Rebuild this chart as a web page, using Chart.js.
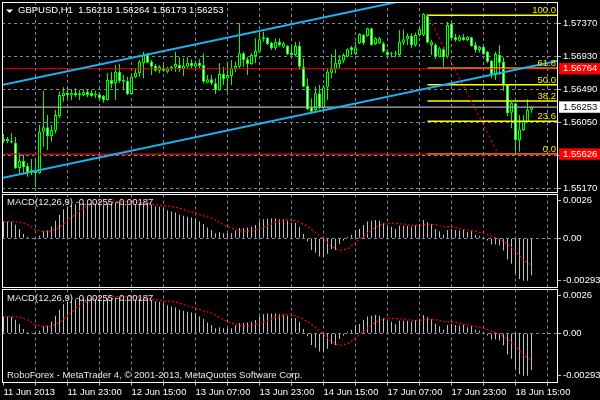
<!DOCTYPE html>
<html>
<head>
<meta charset="utf-8">
<title>GBPUSD,H1</title>
<script src="https://cdn.jsdelivr.net/npm/chart.js@4.4.0/dist/chart.umd.min.js"></script>
<style>
    html, body { margin: 0; padding: 0; background: #000; }
    body { width: 600px; height: 400px; position: relative; overflow: hidden; }
    canvas { position: absolute; left: 0; }
</style>
</head>
<body>
<canvas id="priceChart" width="600" height="194" style="top:0"></canvas>
<canvas id="macdChart1" width="600" height="96" style="top:193px"></canvas>
<canvas id="macdChart2" width="600" height="111" style="top:289px"></canvas>
<script>
// GBPUSD H1 candles, one per hour from 11 Jun 07:00 (bar 0) to 18 Jun 19:00 (bar 132)
const symbolName = 'GBPUSD,H1';

const openPrices = [
    1.55801, 1.55828, 1.55801, 1.55778, 1.55441, 1.55534, 1.55468, 1.55378, 1.55414, 1.55370,
    1.55925, 1.55984, 1.55868, 1.55938, 1.56134, 1.56401, 1.56445, 1.56410, 1.56445, 1.56410,
    1.56414, 1.56458, 1.56445, 1.56410, 1.56424, 1.56401, 1.56348, 1.56614, 1.56570, 1.56725,
    1.56592, 1.56601, 1.56428, 1.56650, 1.56704, 1.56837, 1.56948, 1.56858, 1.56801, 1.56738,
    1.56778, 1.56725, 1.56757, 1.56784, 1.56814, 1.56757, 1.56792, 1.56845, 1.56792, 1.56845,
    1.56814, 1.56578, 1.56624, 1.56570, 1.56481, 1.56694, 1.56637, 1.56668, 1.56757, 1.56792,
    1.56970, 1.56890, 1.56828, 1.56934, 1.56992, 1.57157, 1.57178, 1.57112, 1.57037, 1.57125,
    1.57058, 1.57068, 1.56978, 1.56948, 1.57068, 1.56792, 1.56534, 1.56250, 1.56214, 1.56437,
    1.56237, 1.56517, 1.56712, 1.56757, 1.56828, 1.56872, 1.56925, 1.57050, 1.56961, 1.57104,
    1.57214, 1.57201, 1.57304, 1.57094, 1.57104, 1.57104, 1.56992, 1.56970, 1.56961, 1.56948,
    1.57112, 1.57157, 1.57201, 1.57081, 1.57214, 1.57214, 1.57485, 1.57081, 1.57081, 1.56925,
    1.57024, 1.56925, 1.57361, 1.57184, 1.57138, 1.57184, 1.57148, 1.57184, 1.57081, 1.57014,
    1.57058, 1.56992, 1.56868, 1.56681, 1.56948, 1.56858, 1.56548, 1.56178, 1.56304, 1.55814,
    1.55948, 1.56058, 1.56218
];
const highPrices = [
    1.55894, 1.55854, 1.55908, 1.55854, 1.55645, 1.55614, 1.55508, 1.55561, 1.55574, 1.56014,
    1.56472, 1.56148, 1.56014, 1.56214, 1.56458, 1.56517, 1.56517, 1.56490, 1.56504, 1.56481,
    1.56490, 1.56490, 1.56481, 1.56472, 1.56437, 1.56414, 1.56704, 1.56725, 1.56814, 1.56828,
    1.56681, 1.56658, 1.56704, 1.56770, 1.56881, 1.56992, 1.56970, 1.56881, 1.56828, 1.56814,
    1.56814, 1.56792, 1.56801, 1.56992, 1.56925, 1.56904, 1.56925, 1.56890, 1.56868, 1.56890,
    1.56970, 1.56681, 1.56681, 1.56637, 1.56837, 1.56792, 1.56858, 1.56881, 1.56858, 1.57370,
    1.56992, 1.56925, 1.56970, 1.57170, 1.57237, 1.57258, 1.57192, 1.57125, 1.57170, 1.57170,
    1.57125, 1.57081, 1.57058, 1.57125, 1.57125, 1.56904, 1.56637, 1.56370, 1.56525, 1.56548,
    1.56548, 1.56770, 1.56961, 1.57024, 1.56948, 1.56970, 1.57037, 1.57068, 1.57125, 1.57237,
    1.57228, 1.57312, 1.57312, 1.57184, 1.57192, 1.57125, 1.57024, 1.56992, 1.57005, 1.57281,
    1.57290, 1.57237, 1.57237, 1.57245, 1.57325, 1.57504, 1.57494, 1.57148, 1.57104, 1.57058,
    1.57058, 1.57392, 1.57378, 1.57228, 1.57214, 1.57228, 1.57201, 1.57192, 1.57125, 1.57068,
    1.57068, 1.57005, 1.56881, 1.56992, 1.57081, 1.56917, 1.56552, 1.56325, 1.56312, 1.56148,
    1.56148, 1.56357, 1.56264
];
const lowPrices = [
    1.55774, 1.55774, 1.55768, 1.55428, 1.55348, 1.55374, 1.55325, 1.55348, 1.55188, 1.55361,
    1.55725, 1.55681, 1.55792, 1.55904, 1.56104, 1.56325, 1.56370, 1.56348, 1.56392, 1.56348,
    1.56401, 1.56384, 1.56392, 1.56370, 1.56348, 1.56312, 1.56341, 1.56504, 1.56348, 1.56578,
    1.56490, 1.56414, 1.56414, 1.56637, 1.56658, 1.56637, 1.56837, 1.56681, 1.56725, 1.56704,
    1.56725, 1.56704, 1.56738, 1.56725, 1.56725, 1.56668, 1.56770, 1.56770, 1.56770, 1.56770,
    1.56570, 1.56570, 1.56548, 1.56428, 1.56472, 1.56548, 1.56458, 1.56548, 1.56725, 1.56770,
    1.56792, 1.56681, 1.56814, 1.56837, 1.56970, 1.57125, 1.57081, 1.57014, 1.57014, 1.57058,
    1.57037, 1.56948, 1.56934, 1.56925, 1.56748, 1.56517, 1.56214, 1.56170, 1.56192, 1.56224,
    1.56214, 1.56348, 1.56637, 1.56704, 1.56770, 1.56837, 1.56917, 1.56948, 1.56948, 1.57094,
    1.57081, 1.57192, 1.57072, 1.57081, 1.57094, 1.56978, 1.56934, 1.56917, 1.56917, 1.56934,
    1.57081, 1.57081, 1.57037, 1.57058, 1.57192, 1.57201, 1.57104, 1.56948, 1.56890, 1.56917,
    1.56792, 1.56904, 1.57157, 1.57125, 1.57125, 1.57138, 1.57134, 1.57058, 1.56978, 1.56978,
    1.56948, 1.56837, 1.56637, 1.56614, 1.56681, 1.56472, 1.56134, 1.55970, 1.55626, 1.55658,
    1.55938, 1.56045, 1.56173
];
const closePrices = [
    1.55828, 1.55801, 1.55781, 1.55437, 1.55534, 1.55454, 1.55378, 1.55414, 1.55370, 1.55925,
    1.55984, 1.55868, 1.55948, 1.56148, 1.56414, 1.56445, 1.56410, 1.56445, 1.56410, 1.56437,
    1.56458, 1.56414, 1.56401, 1.56428, 1.56370, 1.56348, 1.56614, 1.56561, 1.56725, 1.56601,
    1.56614, 1.56428, 1.56658, 1.56712, 1.56858, 1.56948, 1.56845, 1.56792, 1.56738, 1.56792,
    1.56738, 1.56770, 1.56792, 1.56828, 1.56757, 1.56801, 1.56845, 1.56801, 1.56837, 1.56801,
    1.56592, 1.56624, 1.56570, 1.56481, 1.56694, 1.56624, 1.56681, 1.56770, 1.56801, 1.56970,
    1.56881, 1.56828, 1.56948, 1.57005, 1.57157, 1.57184, 1.57094, 1.57037, 1.57125, 1.57081,
    1.57104, 1.56961, 1.56948, 1.57068, 1.56792, 1.56525, 1.56224, 1.56192, 1.56437, 1.56250,
    1.56517, 1.56725, 1.56770, 1.56845, 1.56881, 1.56948, 1.57024, 1.57014, 1.57050, 1.57228,
    1.57104, 1.57304, 1.57081, 1.57170, 1.57170, 1.56992, 1.56948, 1.56961, 1.56970, 1.57125,
    1.57157, 1.57201, 1.57081, 1.57214, 1.57290, 1.57494, 1.57112, 1.57125, 1.56925, 1.57037,
    1.56917, 1.57348, 1.57170, 1.57148, 1.57192, 1.57148, 1.57192, 1.57068, 1.57014, 1.57058,
    1.56961, 1.56858, 1.56694, 1.56961, 1.56845, 1.56548, 1.56170, 1.56312, 1.55814, 1.55957,
    1.56072, 1.56214, 1.56253
];

// MACD(12,26,9) main line (histogram), one value per bar
const macdValues = [
    0.00116, 0.00116, 0.00112, 0.00094, 0.00064, 0.00030, 0.00011, 0.00005, 0.00002, 0.00018,
    0.00048, 0.00053, 0.00082, 0.00121, 0.00162, 0.00201, 0.00217, 0.00231, 0.00235, 0.00240,
    0.00242, 0.00242, 0.00240, 0.00237, 0.00235, 0.00228, 0.00240, 0.00242, 0.00247, 0.00247,
    0.00244, 0.00235, 0.00235, 0.00235, 0.00240, 0.00242, 0.00240, 0.00231, 0.00221, 0.00217,
    0.00208, 0.00194, 0.00185, 0.00178, 0.00162, 0.00155, 0.00148, 0.00144, 0.00139, 0.00116,
    0.00098, 0.00075, 0.00057, 0.00034, 0.00041, 0.00034, 0.00034, 0.00034, 0.00053, 0.00071,
    0.00071, 0.00075, 0.00080, 0.00091, 0.00116, 0.00132, 0.00137, 0.00137, 0.00137, 0.00132,
    0.00132, 0.00121, 0.00105, 0.00105, 0.00080, 0.00030, -0.00021, -0.00080, -0.00100, -0.00126,
    -0.00126, -0.00107, -0.00073, -0.00080, -0.00039, -0.00016, 0.00011, 0.00025, 0.00057, 0.00064,
    0.00091, 0.00116, 0.00121, 0.00126, 0.00121, 0.00103, 0.00087, 0.00080, 0.00064, 0.00087,
    0.00087, 0.00087, 0.00082, 0.00091, 0.00098, 0.00126, 0.00110, 0.00098, 0.00064, 0.00048,
    0.00025, 0.00057, 0.00064, 0.00057, 0.00053, 0.00057, 0.00041, 0.00053, 0.00025, 0.00018,
    0.00007, -0.00016, -0.00043, -0.00043, -0.00050, -0.00084, -0.00146, -0.00176, -0.00244, -0.00280,
    -0.00293, -0.00293, -0.00255
];
// signal line, read every second bar (bars 0, 2, 4 ... 132)
const signalStep = 2;
const signalValues = [
    0.00116, 0.00116, 0.00112, 0.00094, 0.00057, 0.00048, 0.00048, 0.00075, 0.00121, 0.00167,
    0.00208, 0.00235, 0.00249, 0.00253, 0.00253, 0.00253, 0.00253, 0.00247, 0.00240, 0.00231,
    0.00224, 0.00219, 0.00208, 0.00190, 0.00174, 0.00155, 0.00139, 0.00110, 0.00080, 0.00059,
    0.00048, 0.00053, 0.00071, 0.00087, 0.00110, 0.00126, 0.00130, 0.00110, 0.00082, 0.00041,
    -0.00005, -0.00057, -0.00084, -0.00073, -0.00032, 0.00014, 0.00057, 0.00091, 0.00103, 0.00103,
    0.00098, 0.00089, 0.00089, 0.00096, 0.00094, 0.00082, 0.00080, 0.00068, 0.00057, 0.00048,
    0.00034, 0.00014, -0.00005, -0.00039, -0.00089, -0.00148, -0.00187
];

// chart objects drawn on the price window
const channelBars = [-0.375, 138.375];
const upperChannel = [1.56547, 1.58102];
const lowerChannel = [1.55307, 1.56866];
const redLevels = [1.56764, 1.55626];
const bidPrice = 1.56253;
const fibHigh = 1.57477;
const fibLow = 1.55626;
const fibBars = [106, 123.7];
const fibLevels = [100, 61.8, 50, 38.2, 23.6, 0];

// axes
const priceTicks = [1.5737, 1.5693, 1.5649, 1.5605, 1.5561, 1.5517];
const macdTicks = [0.0026, 0, -0.00293];
const macdTickLabels = ['0.0026', '0.00', '-0.00293'];
const gridBars = [0, 8, 16, 24, 32, 40, 48, 56, 64, 72, 80, 88, 96, 104, 112, 120, 128, 136];
const timeBars = [0, 16, 32, 48, 64, 80, 96, 112, 128];
const timeLabels = ['11 Jun 2013', '11 Jun 23:00', '12 Jun 15:00', '13 Jun 07:00', '13 Jun 23:00',
    '14 Jun 15:00', '17 Jun 07:00', '17 Jun 23:00', '18 Jun 15:00'];

const xMin = -0.375, xMax = 138.375;
const priceMin = 1.55114, priceMax = 1.57654;
const macdMin = -0.003393, macdMax = 0.003021;

const gridColor = '#778899';
const candleColor = '#00ff00';
const fontFamily = '"Liberation Sans", Arial, sans-serif';
const textFont = '9.5px ' + fontFamily;

Chart.defaults.font.family = fontFamily;
Chart.defaults.font.size = 9.5;
Chart.defaults.color = '#ffffff';
Chart.defaults.animation = false;

const last = closePrices.length - 1;
const markerPrices = [redLevels[0], bidPrice, redLevels[1]];

// white frame round each window
const framePlugin = {
    id: 'frame',
    afterDraw(chart) {
        const { ctx, chartArea: a } = chart;
        const l = Math.floor(a.left) + 0.5, r = Math.floor(a.right) + 0.5;
        const t = Math.floor(a.top) + 0.5, b = Math.floor(a.bottom) + 0.5;
        ctx.save();
        ctx.strokeStyle = '#ffffff';
        ctx.lineWidth = 1;
        ctx.strokeRect(l, t, r - l, b - t);
        ctx.restore();
    }
};

function timeAxis(showLabels) {
    return {
        type: 'linear',
        min: xMin,
        max: xMax,
        offset: false,
        afterBuildTicks: scale => { scale.ticks = gridBars.map(v => ({ value: v })); },
        afterFit: scale => {
            scale.height = showLabels ? 17.5 : 0;
            scale.paddingLeft = 0;
            scale.paddingRight = 0;
        },
        grid: {
            offset: false,
            color: c => (c.tick && c.tick.value > 0) ? gridColor : 'transparent',
            drawTicks: showLabels,
            tickLength: 3,
            tickColor: '#c0c0c0'
        },
        border: { display: false, dash: [3, 3] },
        ticks: {
            display: showLabels,
            autoSkip: false,
            maxRotation: 0,
            minRotation: 0,
            align: 'start',
            padding: 1,
            color: '#ffffff',
            callback: v => {
                const k = timeBars.indexOf(v);
                return k >= 0 ? timeLabels[k] : '';
            }
        }
    };
}

function rightAxis(min, max, tickValues, gridOn, labelFor, tickStyle) {
    return {
        type: 'linear',
        position: 'right',
        min: min,
        max: max,
        afterBuildTicks: scale => { scale.ticks = tickValues.map(v => ({ value: v })); },
        afterFit: scale => {
            scale.width = 43;
            scale.paddingTop = 0;
            scale.paddingBottom = 0;
        },
        grid: {
            color: c => (c.tick && gridOn(c.tick.value)) ? gridColor : 'transparent',
            tickLength: 4,
            tickColor: c => (c.tick && tickStyle(c.tick.value).bg) ? 'transparent' : '#c0c0c0'
        },
        border: { display: false, dash: [3, 3] },
        ticks: {
            autoSkip: false,
            padding: 2,
            color: c => c.tick ? tickStyle(c.tick.value).color : '#ffffff',
            showLabelBackdrop: c => !!(c.tick && tickStyle(c.tick.value).bg),
            backdropColor: c => (c.tick && tickStyle(c.tick.value).bg) || 'transparent',
            backdropPadding: { left: 4, right: 5, top: 0, bottom: 0 },
            callback: labelFor
        }
    };
}

function priceTickStyle(v) {
    if (Math.abs(v - bidPrice) < 1e-7) return { color: '#000000', bg: '#ffffff' };
    if (redLevels.some(p => Math.abs(v - p) < 1e-7)) return { color: '#ffffff', bg: '#ff0000' };
    return { color: '#ffffff', bg: null };
}

// price window
const bodyData = openPrices.map((o, i) => ({ x: i, y: [o, closePrices[i]] }));
const wickData = lowPrices.map((lo, i) => ({ x: i, y: [lo, highPrices[i]] }));
const bodyFill = openPrices.map((o, i) => closePrices[i] >= o ? '#000000' : '#ffffff');

function hLine(price, fromBar, color, order, width) {
    return {
        type: 'line',
        data: [{ x: fromBar, y: price }, { x: xMax, y: price }],
        borderColor: color,
        borderWidth: width || 1,
        pointRadius: 0,
        order: order
    };
}

const fibPrice = lvl => fibLow + (fibHigh - fibLow) * lvl / 100;

const priceDatasets = [
    {
        type: 'line',
        data: channelBars.map((b, k) => ({ x: b, y: upperChannel[k] })),
        borderColor: '#1cb0f0', borderWidth: 2, pointRadius: 0, order: 1
    },
    {
        type: 'line',
        data: channelBars.map((b, k) => ({ x: b, y: lowerChannel[k] })),
        borderColor: '#1cb0f0', borderWidth: 2, pointRadius: 0, order: 1
    },
    ...redLevels.map(p => hLine(p, xMin, '#ff0000', 2, 1.2)),
    {
        type: 'line',
        data: [{ x: fibBars[0], y: fibHigh }, { x: fibBars[1], y: fibLow }],
        borderColor: '#ff0000', borderWidth: 1.2, borderDash: [2, 3], pointRadius: 0, order: 3
    },
    ...fibLevels.map(l => hLine(fibPrice(l), fibBars[0], '#ffff00', 4, 1.5)),
    hLine(bidPrice, xMin, '#b0b0b0', 5, 1.2),
    {
        type: 'bar',
        data: bodyData,
        backgroundColor: bodyFill,
        borderColor: candleColor,
        borderWidth: 1,
        borderSkipped: false,
        maxBarThickness: 3,
        order: 6
    },
    {
        type: 'bar',
        data: wickData,
        backgroundColor: candleColor,
        borderWidth: 0,
        maxBarThickness: 1,
        order: 7
    }
];

const priceText = {
    id: 'priceText',
    afterDraw(chart) {
        const { ctx, scales: { y } } = chart;
        ctx.save();
        ctx.fillStyle = '#ffffff';
        ctx.beginPath();
        ctx.moveTo(6, 9.5); ctx.lineTo(13, 9.5); ctx.lineTo(9.5, 13);
        ctx.closePath();
        ctx.fill();
        ctx.font = textFont;
        ctx.textBaseline = 'middle';
        const ohlc = [openPrices[last], highPrices[last], lowPrices[last], closePrices[last]]
            .map(v => v.toFixed(5)).join(' ');
        ctx.fillText(symbolName + '  ' + ohlc, 18, 10.5);
        ctx.fillStyle = '#f0f000';
        ctx.textAlign = 'right';
        ctx.textBaseline = 'alphabetic';
        fibLevels.forEach(l => {
            ctx.fillText(l.toFixed(1), 556, y.getPixelForValue(fibPrice(l)) - 2);
        });
        ctx.restore();
    }
};

const barDefaults = {
    grouped: false,
    categoryPercentage: 1,
    barPercentage: 1,
    inflateAmount: 0
};

new Chart(document.getElementById('priceChart'), {
    type: 'bar',
    data: { datasets: priceDatasets },
    options: {
        responsive: false,
        layout: { padding: { top: 2, left: 2, right: 0, bottom: 1.5 } },
        datasets: { bar: barDefaults },
        plugins: { legend: { display: false }, tooltip: { enabled: false } },
        scales: {
            x: timeAxis(false),
            y: rightAxis(priceMin, priceMax, priceTicks.concat(markerPrices),
                v => priceTicks.some(p => Math.abs(p - v) < 1e-7),
                v => v.toFixed(5), priceTickStyle)
        }
    },
    plugins: [framePlugin, priceText]
});

// MACD windows (the same indicator is attached twice)
function macdChart(canvasId, padding, showTime, withCopyright) {
    const macdText = {
        id: 'macdText',
        afterDraw(chart) {
            const { ctx } = chart;
            ctx.save();
            ctx.font = textFont;
            ctx.fillStyle = '#e8e8e8';
            ctx.textBaseline = 'middle';
            ctx.fillText('MACD(12,26,9) ' + macdValues[last].toFixed(5) + ' ' +
                signalValues[signalValues.length - 1].toFixed(5), 7, 9.3);
            if (withCopyright) {
                ctx.fillText('RoboForex - MetaTrader 4, \u00a9 2001-2013, MetaQuotes Software Corp.', 7, 86);
            }
            ctx.restore();
        }
    };
    return new Chart(document.getElementById(canvasId), {
        type: 'bar',
        data: {
            datasets: [
                {
                    type: 'line',
                    data: signalValues.map((v, k) => ({ x: k * signalStep, y: v })),
                    borderColor: '#ff0000',
                    borderWidth: 1.2,
                    borderDash: [2, 2],
                    pointRadius: 0,
                    order: 1
                },
                {
                    type: 'bar',
                    data: macdValues.map((v, i) => ({ x: i, y: v })),
                    backgroundColor: '#c0c0c0',
                    borderWidth: 0,
                    maxBarThickness: 1,
                    order: 2
                }
            ]
        },
        options: {
            responsive: false,
            layout: { padding: padding },
            datasets: { bar: barDefaults },
            plugins: { legend: { display: false }, tooltip: { enabled: false } },
            scales: {
                x: timeAxis(showTime),
                y: rightAxis(macdMin, macdMax, macdTicks, v => v === 0,
                    (v, i) => macdTickLabels[i], () => ({ color: '#ffffff', bg: null }))
            }
        },
        plugins: [framePlugin, macdText]
    });
}

macdChart('macdChart1', { top: 1.5, left: 2, right: 0, bottom: 1.5 }, false, false);
macdChart('macdChart2', { top: 0.5, left: 2, right: 0, bottom: 0 }, true, true);
</script>
</body>
</html>
